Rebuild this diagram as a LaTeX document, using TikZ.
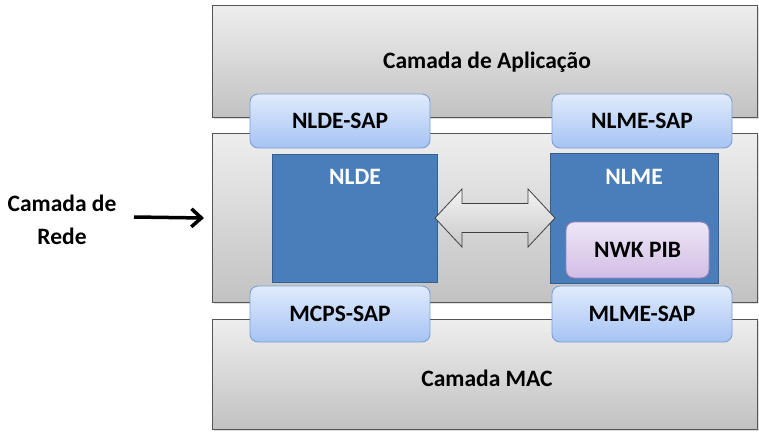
\documentclass[tikz,border=0pt]{standalone}
\usepackage{fontspec}
\setmainfont{Carlito}
\usetikzlibrary{arrows.meta,shadows}
\definecolor{layerTop}{HTML}{EEEEEE}
\definecolor{layerBot}{HTML}{C2C2C2}
\definecolor{layerDraw}{HTML}{555555}
\definecolor{sapTop}{HTML}{E0EBFC}
\definecolor{sapBot}{HTML}{A6C3F3}
\definecolor{sapDraw}{HTML}{7B9ED6}
\definecolor{blueFill}{HTML}{4A7EBB}
\definecolor{blueDraw}{HTML}{355F91}
\definecolor{pibTop}{HTML}{EEE6F6}
\definecolor{pibBot}{HTML}{D2BEE5}
\definecolor{pibDraw}{HTML}{9C80B8}
\definecolor{arrTop}{HTML}{F4F4F4}
\definecolor{arrBot}{HTML}{C8C8C8}
\tikzset{
  layer/.style={draw=layerDraw, line width=0.9pt, top color=layerTop, bottom color=layerBot,
    drop shadow={opacity=0.25, shadow xshift=1.5pt, shadow yshift=-1.5pt}},
  sap/.style={draw=sapDraw, line width=0.9pt, rounded corners=8pt, top color=sapTop, bottom color=sapBot},
  blk/.style={draw=blueDraw, line width=1pt, fill=blueFill},
  pib/.style={draw=pibDraw, line width=0.9pt, rounded corners=8pt, top color=pibTop, bottom color=pibBot},
  lbl/.style={font=\fontsize{23.5}{33}\selectfont\bfseries, text=black},
  wlbl/.style={font=\fontsize{23.5}{33}\selectfont\bfseries, text=white},
}
\begin{document}
\begin{tikzpicture}[x=1pt,y=-1pt]
\useasboundingbox (0,0) rectangle (759,431);
% layers
\path[layer] (212,5) rectangle (757,117);
\node[lbl] (app) at (487,62) {Camada de Aplicação};
\path[layer] (212,133) rectangle (757,302);
\path[layer] (212,319) rectangle (757,429);
\node[lbl] (mac) at (487,378) {Camada MAC};
% blue blocks
\path[blk] (272,154) rectangle (437,282);
\node[wlbl] (nlde) at (355,177) {NLDE};
\path[blk] (550,153) rectangle (718,283);
\node[wlbl] (nlme) at (634,177) {NLME};
\path[pib] (566,222) rectangle (709,278);
\node[lbl] (pib) at (637.5,250) {NWK PIB};
% double arrow
\path[draw=black!75, line width=0.8pt, top color=arrTop, bottom color=arrBot]
  (435,218) -- (462,189) -- (462,203.5) -- (528,203.5) -- (528,189) -- (555,218)
  -- (528,247) -- (528,232.5) -- (462,232.5) -- (462,247) -- cycle;
% SAPs
\path[sap] (250,94) rectangle (430,148);
\node[lbl] (nldesap) at (340,121) {NLDE-SAP};
\path[sap] (552,94) rectangle (732,148);
\node[lbl] (nlmesap) at (642,121) {NLME-SAP};
\path[sap] (250,286) rectangle (430,342);
\node[lbl] (mcpssap) at (340,314) {MCPS-SAP};
\path[sap] (552,286) rectangle (732,342);
\node[lbl] (mlmesap) at (642,314) {MLME-SAP};
% side label
\node[lbl, align=center] (rede) at (62,220) {Camada de\\Rede};
\coordinate (netleft) at (204,218);
\draw[line width=3.5pt, -{Straight Barb[length=10pt,width=18pt]}] (134,217) -- (netleft);
\end{tikzpicture}
\end{document}
